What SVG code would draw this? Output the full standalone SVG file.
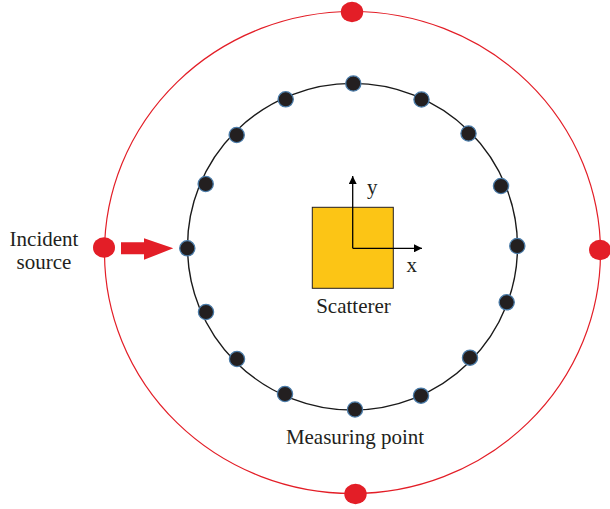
<svg xmlns="http://www.w3.org/2000/svg" width="610" height="509" viewBox="0 0 610 509">
<defs>
<style>
.lbl{font-family:"Liberation Serif","Times New Roman",serif;font-size:21px;fill:#231F20}
.mp{fill:#231F20;stroke:#4A7BA8;stroke-width:1.3}
.src{fill:#E31E27}
.ax{stroke:#000;stroke-width:1.3;fill:none}
</style>
<marker id="ah" viewBox="0 0 10 10" refX="10" refY="5" markerWidth="8" markerHeight="8" markerUnits="userSpaceOnUse" orient="auto">
<path d="M0,0 L10,5 L0,10 Z" fill="#000"/>
</marker>
</defs>
<rect width="610" height="509" fill="#fff"/>
<g id="outer-circle">
<ellipse cx="352.5" cy="252.5" rx="248" ry="241" fill="none" stroke="#E31E27" stroke-width="1.2"/>
</g>
<g id="measuring-circle">
<ellipse cx="352.5" cy="246.7" rx="165" ry="163.3" fill="none" stroke="#1a1a1a" stroke-width="1.4"/>
</g>
<g id="scatterer">
<rect x="312.3" y="207.3" width="81" height="81" fill="#FCC515" stroke="#231F20" stroke-width="1"/>
</g>
<g id="connectors">
<line class="ax" x1="352.7" y1="248.3" x2="352.7" y2="176" marker-end="url(#ah)"/>
<line class="ax" x1="352.7" y1="248.3" x2="422" y2="248.3" marker-end="url(#ah)"/>
<polygon points="121,242.3 144,242.3 144,238.3 173.3,248.3 144,259.8 144,254.3 121,254.3" fill="#E31E27"/>
</g>
<g id="measuring-points">
<circle class="mp" cx="353.3" cy="83.5" r="7.6"/>
<circle class="mp" cx="421.5" cy="99.5" r="7.6"/>
<circle class="mp" cx="468.5" cy="133.5" r="7.6"/>
<circle class="mp" cx="501" cy="186" r="7.6"/>
<circle class="mp" cx="517.3" cy="246" r="7.6"/>
<circle class="mp" cx="506.7" cy="302.3" r="7.6"/>
<circle class="mp" cx="470" cy="357.7" r="7.6"/>
<circle class="mp" cx="421" cy="395.7" r="7.6"/>
<circle class="mp" cx="355" cy="409.5" r="7.6"/>
<circle class="mp" cx="285" cy="394" r="7.6"/>
<circle class="mp" cx="237" cy="359" r="7.6"/>
<circle class="mp" cx="206" cy="312" r="7.6"/>
<circle class="mp" cx="187.3" cy="248.3" r="7.6"/>
<circle class="mp" cx="205.7" cy="184" r="7.6"/>
<circle class="mp" cx="236.7" cy="135" r="7.6"/>
<circle class="mp" cx="285.7" cy="99.3" r="7.6"/>
</g>
<g id="sources">
<ellipse class="src" cx="352" cy="12" rx="11.2" ry="10.2"/>
<ellipse class="src" cx="355.5" cy="494" rx="11.2" ry="10.2"/>
<ellipse class="src" cx="104" cy="247.5" rx="11" ry="10.2"/>
<ellipse class="src" cx="600" cy="250" rx="11" ry="10.2"/>
</g>
<g id="labels">
<text class="lbl" x="44" y="245.5" text-anchor="middle">Incident</text>
<text class="lbl" x="44" y="269" text-anchor="middle">source</text>
<text class="lbl" x="353.5" y="313" text-anchor="middle">Scatterer</text>
<text class="lbl" x="355" y="444.3" text-anchor="middle">Measuring point</text>
<text class="lbl" x="372.3" y="193.5" text-anchor="middle">y</text>
<text class="lbl" x="411.7" y="272" text-anchor="middle">x</text>
</g>
</svg>
